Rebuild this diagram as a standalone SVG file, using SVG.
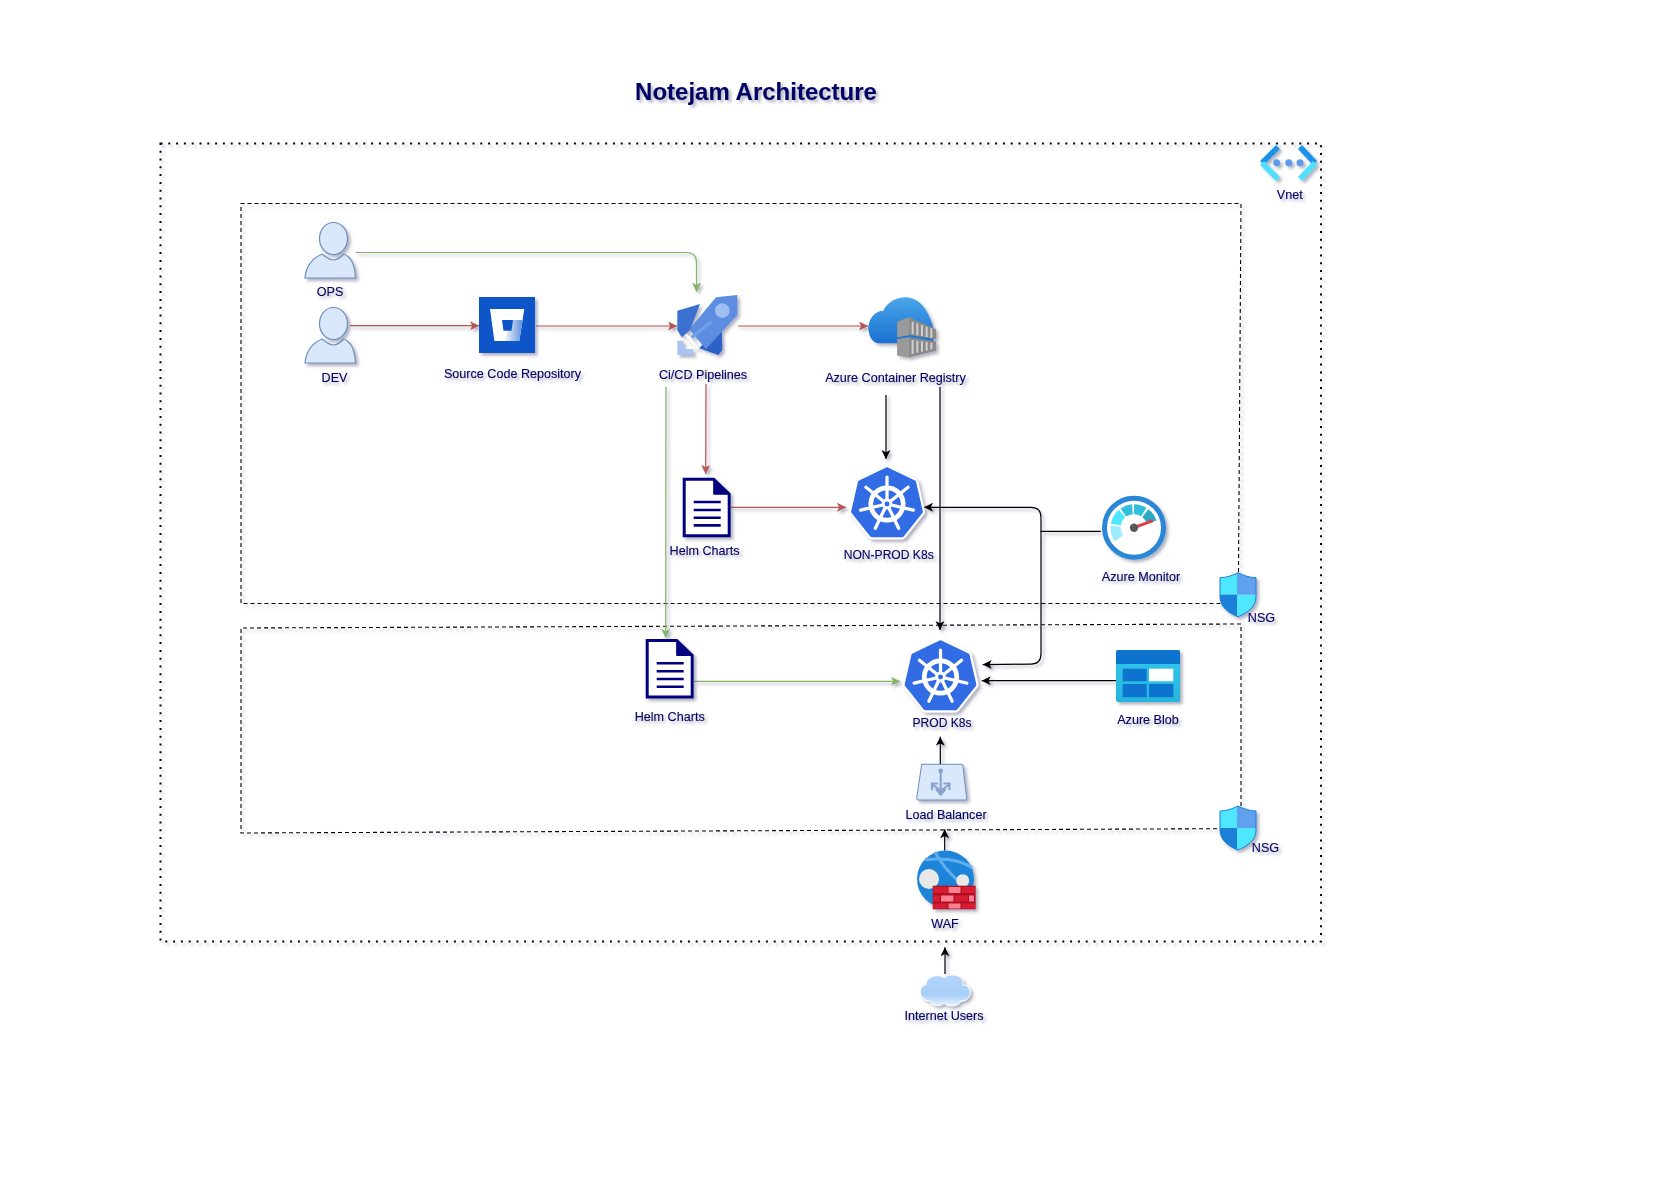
<svg xmlns="http://www.w3.org/2000/svg" width="1665" height="1180" viewBox="0 0 1665 1180">
<style>
text{font-family:"Liberation Sans",Arial,sans-serif;font-size:12.6px;fill:#000066;stroke:#000066;stroke-width:.15;text-anchor:middle}
.title{font-size:24px;font-weight:bold}
.sm{font-size:12.1px}
.n{filter:url(#sh)}
.conn path{fill:none;stroke-width:1.2}
.r{stroke:#b85450;marker-end:url(#mr)}
.g{stroke:#82b366;marker-end:url(#mg)}
.k{stroke:#000;marker-end:url(#mk)}
.person{fill:#dae8fc;stroke:#6c8ebf;stroke-width:1.2}
.zone{fill:none;stroke:#000;stroke-width:1.1;stroke-dasharray:4 3}
.outer{fill:none;stroke:#000;stroke-width:2;stroke-dasharray:2 5.8}
</style>
<defs>
<filter id="sh" x="-15%" y="-15%" width="135%" height="135%"><feDropShadow dx="2.5" dy="2.5" stdDeviation="1.4" flood-color="#555577" flood-opacity=".45"/></filter>
<marker id="mr" markerUnits="userSpaceOnUse" markerWidth="11" markerHeight="11" refX="9" refY="4.5" orient="auto"><path d="M0,0L9,4.5L0,9L2.2,4.5Z" fill="#b85450"/></marker>
<marker id="mg" markerUnits="userSpaceOnUse" markerWidth="11" markerHeight="11" refX="9" refY="4.5" orient="auto"><path d="M0,0L9,4.5L0,9L2.2,4.5Z" fill="#82b366"/></marker>
<marker id="mk" markerUnits="userSpaceOnUse" markerWidth="11" markerHeight="11" refX="9" refY="4.5" orient="auto"><path d="M0,0L9,4.5L0,9L2.2,4.5Z" fill="#000"/></marker>
<linearGradient id="cl" x1="0" y1="0" x2="0" y2="1"><stop offset="0" stop-color="#4aa6ea"/><stop offset="1" stop-color="#1a70d0"/></linearGradient>
<linearGradient id="cu" x1="0" y1="0" x2="0" y2="1"><stop offset="0" stop-color="#b4d4fa"/><stop offset=".65" stop-color="#a8cffa"/><stop offset="1" stop-color="#e6f1ff"/></linearGradient>
<linearGradient id="bk" x1="0" y1="0" x2="1" y2="0"><stop offset="0" stop-color="#fff"/><stop offset="1" stop-color="#5f8fdb"/></linearGradient>
<linearGradient id="bl" x1="0" y1="0" x2="0" y2="1"><stop offset="0" stop-color="#2fc8ee"/><stop offset="1" stop-color="#27b5dc"/></linearGradient>
<clipPath id="shc"><path d="M18,0C24,3 30,5 36,5V24C36,34 28,40 18,44C8,40 0,34 0,24V5C6,5 12,3 18,0Z"/></clipPath>
<g id="shield"><g clip-path="url(#shc)"><rect width="17" height="22" fill="#50e6ff"/><rect x="17" width="19" height="22" fill="#5ea0ef"/><rect y="22" width="17" height="22" fill="#1b7fd8"/><rect x="17" y="22" width="19" height="22" fill="#50e6ff"/></g><path d="M18,0C24,3 30,5 36,5V24C36,34 28,40 18,44C8,40 0,34 0,24V5C6,5 12,3 18,0Z" fill="none" stroke="#1b7fd8"/></g>
<g id="person"><path class="person" d="M0,56C1,44 8,36 17,32C21,35 24,38 28,38C32,38 36,35 39,32C46,35 50,44 50.5,56Z"/><ellipse class="person" cx="28.5" cy="16.5" rx="14" ry="16"/></g>
<g id="doc"><path d="M1.5,1.5H31L46.5,16.5V58H1.5Z" fill="#fff" stroke="#000080" stroke-width="3"/><path d="M31,1.5L46.5,16.5H31Z" fill="#000080" stroke="#000080"/><path d="M11,24.3H38M11,32.3H38M11,40H38M11,47.7H38" stroke="#000080" stroke-width="2.6" fill="none"/></g>
<g id="k8s" transform="scale(1.08)"><path d="M0,-32L25,-20L31.2,7.1L13.9,28.8H-13.9L-31.2,7.1L-25,-20Z" fill="#fff" stroke="#fff" stroke-width="8" stroke-linejoin="round"/><path d="M0,-32L25,-20L31.2,7.1L13.9,28.8H-13.9L-31.2,7.1L-25,-20Z" fill="#326ce5" stroke="#326ce5" stroke-width="4" stroke-linejoin="round"/><circle r="15" fill="none" stroke="#fff" stroke-width="4.4"/><path d="M0,0L0,-25M0,0L19.5,-15.6M0,0L24.4,5.6M0,0L10.8,22.5M0,0L-10.8,22.5M0,0L-24.4,5.6M0,0L-19.5,-15.6" stroke="#fff" stroke-width="3" stroke-linecap="round"/><circle r="5" fill="#fff"/><circle r="2.3" fill="#326ce5"/></g>
</defs>
<rect width="1665" height="1180" fill="#fff"/>
<g id="title" class="n"><text class="title" x="756" y="100">Notejam Architecture</text></g>
<g id="vnet-boundary" class="n"><rect class="outer" x="160.5" y="143.5" width="1160.5" height="798"/></g>
<g id="zone-nonprod" class="n"><path class="zone" d="M1238.5,572L1241,203.5H241V603.5H1222"/></g>
<g id="zone-prod" class="n"><path class="zone" d="M1241,806V624L241,628V833L1220,828.7"/></g>
<g id="connectors" class="conn n">
<path class="g" d="M355.5,252.5H686.5Q696.5,252.5 696.5,262.5V291.7"/>
<path class="r" d="M350,325.7H479"/>
<path class="r" d="M536,326H677"/>
<path class="r" d="M738,326H868"/>
<path class="r" d="M706,384L705.7,474"/>
<path class="r" d="M731,507.3H846"/>
<path class="g" d="M666,387L665.7,638"/>
<path class="g" d="M694,681.3H900"/>
<path class="k" d="M886,395V459"/>
<path class="k" d="M940,387V630"/>
<path class="k" d="M1100.7,531.3H1041V517.3Q1041,507.3 1031,507.3H924"/>
<path class="k" d="M1041,531.3V654Q1041,664 1031,664.1L982.7,664.6"/>
<path class="k" d="M1116,680.7H981.7"/>
<path class="k" d="M940.3,764V736.7"/>
<path class="k" d="M944.7,850.7V829.3"/>
<path class="k" d="M945,974V947.3"/>
</g>
<g id="ops" class="n"><use href="#person" x="305" y="222"/><text x="330" y="296">OPS</text></g>
<g id="dev" class="n"><use href="#person" x="305" y="307"/><text x="334.5" y="382">DEV</text></g>
<g id="repo" class="n"><rect x="479" y="297" width="56" height="56" fill="#0c55c9"/><path d="M490,309H524.3L519.3,341H494.4Z" fill="#fff"/><path d="M513,320H522.6L519.3,341H503.5Z" fill="url(#bk)"/><path d="M502,320H513L511.5,330.7H503.5Z" fill="#0c55c9"/><text x="512.5" y="378">Source Code Repository</text></g>
<g id="cicd" class="n"><g transform="translate(640,280) scale(.3333)"><path d="M112,92L180,72L150,150L125,172L112,150Z" fill="#3b6fd0"/><path d="M245,130L247,210L235,225L178,205Z" fill="#2a62c8"/><path d="M148,148L228,52L292,45V105L198,207Z" fill="#5b8de0"/><path d="M155,172L215,125" stroke="#709fe9" stroke-width="10"/><circle cx="247" cy="92" r="22" fill="#9fbff0"/><path d="M112,182H130V207H160V225H112Z" fill="#a9c4f2"/><path d="M137,164L176,206" stroke="#fff" stroke-width="7"/></g><text x="703" y="379">Ci/CD Pipelines</text></g>
<g id="acr" class="n"><g transform="translate(640,280) scale(.3333)"><path d="M720,190C695,190 685,165 685,140C688,110 710,92 730,92C745,60 785,45 815,55C850,65 870,105 882,150L880,190Z" fill="url(#cl)"/><path d="M772,125L808,112L888,148V178L808,165L772,172Z" fill="#8a8a8a"/><path d="M772,178L808,172L888,184V212L808,232L772,226Z" fill="#8a8a8a"/><path d="M772,125L808,112V165L772,172ZM772,178L808,172V232L772,226Z" fill="#9a9a9a"/><path d="M818,125V163M832,130V166M846,135V168M860,140V171M874,145V174M818,180V222M832,182V218M846,184V215M860,186V212M874,188V208" stroke="#cfcfcf" stroke-width="6"/></g><text x="895.5" y="382">Azure Container Registry</text></g>
<g id="helm-nonprod" class="n"><use href="#doc" x="682.7" y="477.7"/><text x="704.6" y="555">Helm Charts</text></g>
<g id="k8s-nonprod" class="n"><use href="#k8s" x="887" y="504"/><text class="sm" x="888.7" y="559">NON-PROD K8s</text></g>
<g id="monitor" class="n"><g transform="translate(1134,527.7)"><circle r="29.5" fill="#fff" stroke="#2b87d8" stroke-width="5"/><g fill="none" stroke-width="10"><path d="M-15.2,10.6A18.5,18.5 0 0 1 -18.4,-1.6" stroke="#9cebff"/><path d="M-18.2,-3.2A18.5,18.5 0 0 1 -11.9,-14.2" stroke="#50e6ff"/><path d="M-10.6,-15.2A18.5,18.5 0 0 1 -1.6,-18.4" stroke="#32bedd"/><path d="M0,-18.5A18.5,18.5 0 0 1 9.8,-15.7" stroke="#32bedd"/><path d="M11.4,-14.6A18.5,18.5 0 0 1 17.6,-5.7" stroke="#29a9c5"/></g><path d="M0,0L19,-7" stroke="#e03c4a" stroke-width="3"/><circle r="4.2" fill="#5a5a5a"/></g><text x="1141" y="581">Azure Monitor</text></g>
<g id="vnet" class="n"><path d="M1278,147L1262,163M1300,147L1315,163" stroke="#1b93eb" stroke-width="5.5" fill="none"/><path d="M1262,163L1278,179M1315,163L1300,179" stroke="#50e0ff" stroke-width="5.5" fill="none"/><circle cx="1276.7" cy="162.7" r="3.5" fill="#5c9ce8"/><circle cx="1288.7" cy="162.7" r="3.5" fill="#5c9ce8"/><circle cx="1300" cy="162.7" r="3.5" fill="#5c9ce8"/><text x="1289.7" y="199">Vnet</text></g>
<g id="nsg-nonprod" class="n"><use href="#shield" x="1220" y="572.7"/><text x="1261.5" y="622">NSG</text></g>
<g id="helm-prod" class="n"><use href="#doc" x="645.7" y="639"/><text x="669.7" y="721">Helm Charts</text></g>
<g id="k8s-prod" class="n"><use href="#k8s" x="940.5" y="677"/><text class="sm" x="942" y="727">PROD K8s</text></g>
<g id="blob" class="n"><rect x="1116" y="650" width="64" height="52" rx="2" fill="url(#bl)"/><path d="M1116,664V652Q1116,650 1118,650H1178Q1180,650 1180,652V664Z" fill="#0b73cf"/><rect x="1122.7" y="668.7" width="24" height="12.6" fill="#0b73cf"/><rect x="1149" y="668.7" width="24.3" height="12.6" fill="#fff"/><rect x="1122.7" y="684" width="24" height="13.3" fill="#0b73cf"/><rect x="1149" y="684" width="24.3" height="13.3" fill="#0b73cf"/><text x="1148" y="724">Azure Blob</text></g>
<g id="lb" class="n"><path d="M921.7,764.3H962.7L966.7,798Q967,800 965,800H918.5Q916.5,800 916.7,798Z" fill="#dae8fc" stroke="#6c8ebf"/><circle cx="940.7" cy="771" r="2.4" fill="#8aa3cc"/><path d="M940.7,773V794M936,789L940.7,794.5L945.5,789M940.7,791L932,784M932,790V783.5H938M940.7,791L949.5,784M949.5,790V783.5H943.5" fill="none" stroke="#8aa3cc" stroke-width="2.2"/><text x="946" y="819">Load Balancer</text></g>
<g id="nsg-prod" class="n"><use href="#shield" x="1220" y="806"/><text x="1265.5" y="851.5">NSG</text></g>
<g id="waf" class="n"><circle cx="945.5" cy="879" r="28.5" fill="#1c84d9"/><path d="M935,852C945,870 960,885 973,890M925,860C935,858 960,858 972,868" fill="none" stroke="#62aeec" stroke-width="3"/><circle cx="929" cy="879" r="10" fill="#e8e8e8"/><circle cx="962.7" cy="880.7" r="6.5" fill="#e8e8e8"/><rect x="932.7" y="885.7" width="43" height="23.6" fill="#b01025"/><path d="M933.5,887H947.5V893H933.5ZM962,887H975V893H962ZM933.5,895.5H939.5V901.5H933.5ZM955,895.5H968V901.5H955ZM933.5,903.5H947V908.5H933.5ZM962,903.5H975V908.5H962Z" fill="#d81f30"/><path d="M948.5,887H960.5V893H948.5ZM941,895.5H953.5V901.5H941ZM969,895.5H974V901.5H969ZM948.5,903.5H960.5V908.5H948.5Z" fill="#ff7f8f"/><text x="945" y="928">WAF</text></g>
<g id="internet-users" class="n"><path d="M930,1001C919,1001 917,986 926,985C925,976 940,973 944,978C950,972 965,975 963,985C973,985 973,1001 961,1001C958,1007 948,1007 944,1003C940,1007 932,1006 930,1001Z" fill="url(#cu)" stroke="#fff"/><text x="944" y="1020">Internet Users</text></g>
</svg>
